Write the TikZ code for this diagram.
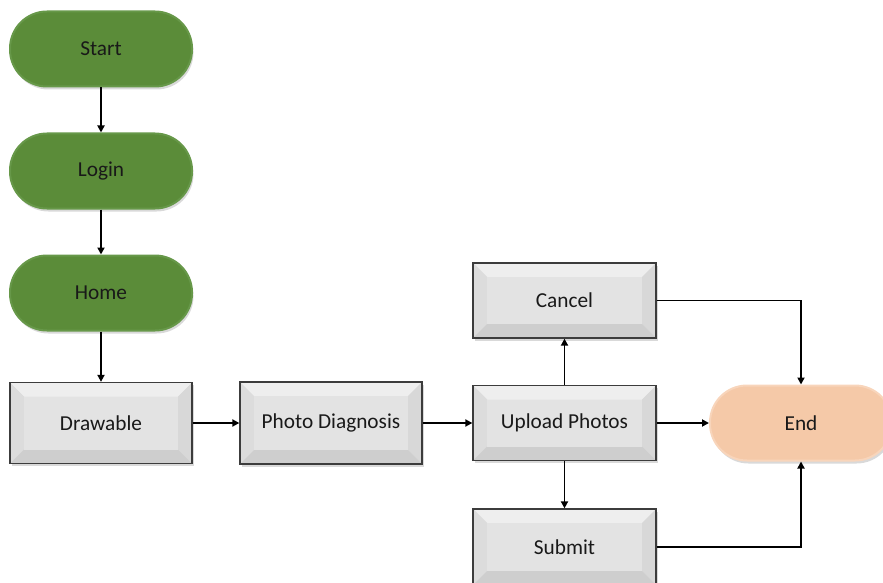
\documentclass[tikz,border=0pt]{standalone}
\usepackage{fontspec}
\setmainfont{Carlito}
\usetikzlibrary{arrows.meta,shadows,calc}

\definecolor{termgreen}{HTML}{5B8C39}
\definecolor{termgreenedge}{HTML}{679849}
\definecolor{termpeach}{HTML}{F5C9A8}
\definecolor{termpeachedge}{HTML}{F8D5BB}
\definecolor{bvmid}{HTML}{E3E3E3}
\definecolor{bvtop}{HTML}{EEEEEE}
\definecolor{bvleft}{HTML}{DCDCDC}
\definecolor{bvright}{HTML}{D8D8D8}
\definecolor{bvbot}{HTML}{CECECE}
\definecolor{boxline}{HTML}{3C3C3C}

\tikzset{
  label font/.style={font=\fontsize{21.3}{25}\selectfont, text=black!90},
  terminal/.style={rectangle, rounded corners=37pt, minimum width=182pt,
    minimum height=75pt, inner sep=0pt, label font,
    drop shadow={shadow xshift=1.5pt, shadow yshift=-3pt, opacity=0.3}},
  startterm/.style={terminal, fill=termgreen, draw=termgreenedge, line width=2pt},
  endterm/.style={terminal, fill=termpeach, draw=termpeachedge, line width=2pt},
  bevelbox/.style={rectangle, minimum width=182pt, minimum height=78pt,
    inner sep=0pt, label font, fill=bvmid, draw=boxline, line width=1.3pt,
    drop shadow={shadow xshift=2pt, shadow yshift=-2.5pt, opacity=0.3},
    path picture={
      \coordinate (bNW) at (path picture bounding box.north west);
      \coordinate (bNE) at (path picture bounding box.north east);
      \coordinate (bSW) at (path picture bounding box.south west);
      \coordinate (bSE) at (path picture bounding box.south east);
      \coordinate (iNW) at ([xshift=14pt,yshift=-14pt]bNW);
      \coordinate (iNE) at ([xshift=-14pt,yshift=-14pt]bNE);
      \coordinate (iSW) at ([xshift=14pt,yshift=14pt]bSW);
      \coordinate (iSE) at ([xshift=-14pt,yshift=14pt]bSE);
      \fill[bvtop] (bNW) -- (bNE) -- (iNE) -- (iNW) -- cycle;
      \fill[bvleft] (bNW) -- (iNW) -- (iSW) -- (bSW) -- cycle;
      \fill[bvright] (bNE) -- (iNE) -- (iSE) -- (bSE) -- cycle;
      \fill[bvbot] (bSW) -- (iSW) -- (iSE) -- (bSE) -- cycle;
      \fill[bvmid] (iNW) rectangle (iSE);
    }},
  flow/.style={draw=black, line width=1.8pt,
    -{Triangle[length=7pt,width=7pt]}}
}

\begin{document}
\begin{tikzpicture}[x=1pt,y=-1pt]
  \useasboundingbox (0,0) rectangle (883,583);

  % terminals
  \node[startterm] (start) at (101,49)  {Start};
  \node[startterm] (login) at (101,171) {Login};
  \node[startterm] (home)  at (101,293) {Home};
  \node[endterm]   (end)   at (801,423) {End};

  % process boxes
  \node[bevelbox, minimum height=81pt] (drawable) at (101,423) {Drawable};
  \node[bevelbox, minimum height=82pt] (photo) at (331,423) {Photo Diagnosis};
  \node[bevelbox, minimum width=183pt, minimum height=75pt] (upload) at (564.5,423) {Upload Photos};
  \node[bevelbox, minimum width=183pt, minimum height=75pt] (cancel) at (564.5,300.5) {Cancel};
  \node[bevelbox, minimum width=183pt, minimum height=76pt] (submit) at (564.5,547) {Submit};

  % connectors
  \draw[flow] (start) -- (login);
  \draw[flow] (login) -- (home);
  \draw[flow] (home) -- (drawable);
  \draw[flow] (drawable) -- (photo);
  \draw[flow] (photo) -- (upload);
  \draw[flow] (upload) -- (cancel);
  \draw[flow] (upload) -- (submit);
  \draw[flow] (upload) -- (end);
  \draw[flow] (cancel.east) -| (end.north);
  \draw[flow] (submit.east) -| (end.south);
\end{tikzpicture}
\end{document}
